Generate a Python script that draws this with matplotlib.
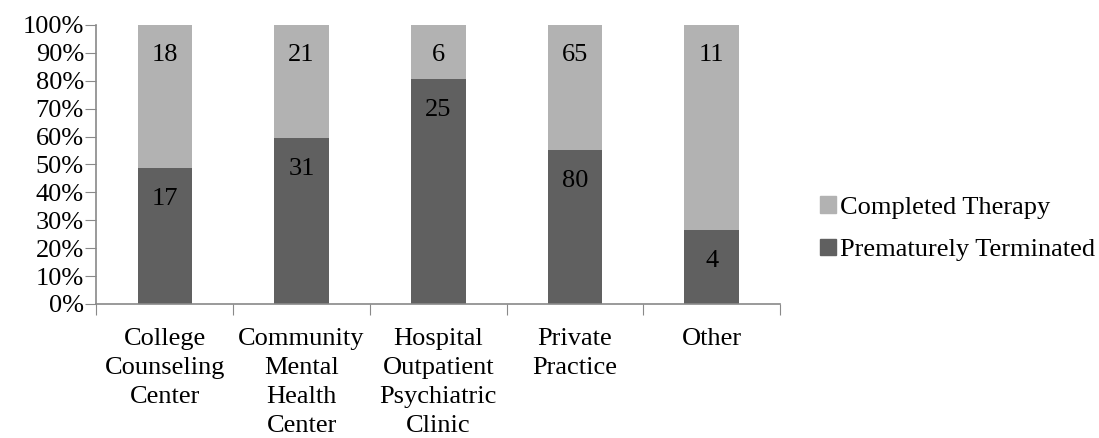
import matplotlib.pyplot as plt
import matplotlib.patches as patches
import numpy as np

categories = ['College\nCounseling\nCenter', 'Community\nMental\nHealth\nCenter',
              'Hospital\nOutpatient\nPsychiatric\nClinic', 'Private\nPractice', 'Other']
terminated = [17, 31, 25, 80, 4]
completed = [18, 21, 6, 65, 11]

dark = '#606060'
light = '#b2b2b2'
axis_color = '#898989'

plt.rcParams['font.family'] = ['Liberation Serif', 'DejaVu Serif']
fs = 19

fig = plt.figure(figsize=(10.99, 4.38), dpi=100)
ax = fig.add_axes([0.0878, 0.306, 0.622, 0.637])

x = np.arange(len(categories))
term = np.array(terminated, dtype=float)
comp = np.array(completed, dtype=float)
total = term + comp
term_pct = term / total * 100
comp_pct = comp / total * 100

width = 0.4
ax.bar(x, term_pct, width, color=dark, label='Prematurely Terminated')
ax.bar(x, comp_pct, width, bottom=term_pct, color=light, label='Completed Therapy')

# labels sit near the top of each segment (excel "inside end")
for i in range(len(x)):
    ax.annotate(str(terminated[i]), (x[i], term_pct[i]), xytext=(0, -31),
                textcoords='offset pixels', ha='center', va='center', fontsize=fs)
    ax.annotate(str(completed[i]), (x[i], 100), xytext=(0, -30),
                textcoords='offset pixels', ha='center', va='center', fontsize=fs)

ax.set_xlim(-0.5, len(x) - 0.5)
ax.set_ylim(0, 100)
ax.set_yticks(np.arange(0, 101, 10))
ax.set_yticklabels(['{}%'.format(v) for v in range(0, 101, 10)], fontsize=fs)

# x ticks between categories, labels in the middle
ax.set_xticks(np.arange(-0.5, len(x), 1.0))
ax.set_xticklabels([])
ax.set_xticks(x, minor=True)
ax.set_xticklabels(categories, minor=True, fontsize=fs, linespacing=1.42)
ax.tick_params(axis='x', which='minor', length=0, pad=17)
ax.tick_params(axis='x', which='major', length=8, color=axis_color, direction='out')
ax.tick_params(axis='y', length=8, color=axis_color, direction='out', pad=1)

for s in ['top', 'right']:
    ax.spines[s].set_visible(False)
for s in ['left', 'bottom']:
    ax.spines[s].set_color(axis_color)
    ax.spines[s].set_linewidth(1.2)

handles = [patches.Patch(color=light), patches.Patch(color=dark)]
fig.legend(handles, ['Completed Therapy', 'Prematurely Terminated'],
           loc='center left', bbox_to_anchor=(0.746, 0.478), frameon=False,
           fontsize=fs, handlelength=0.6, handleheight=0.6, handletextpad=0.15,
           labelspacing=0.75, borderpad=0, borderaxespad=0)

plt.savefig('out.png', dpi=100)
